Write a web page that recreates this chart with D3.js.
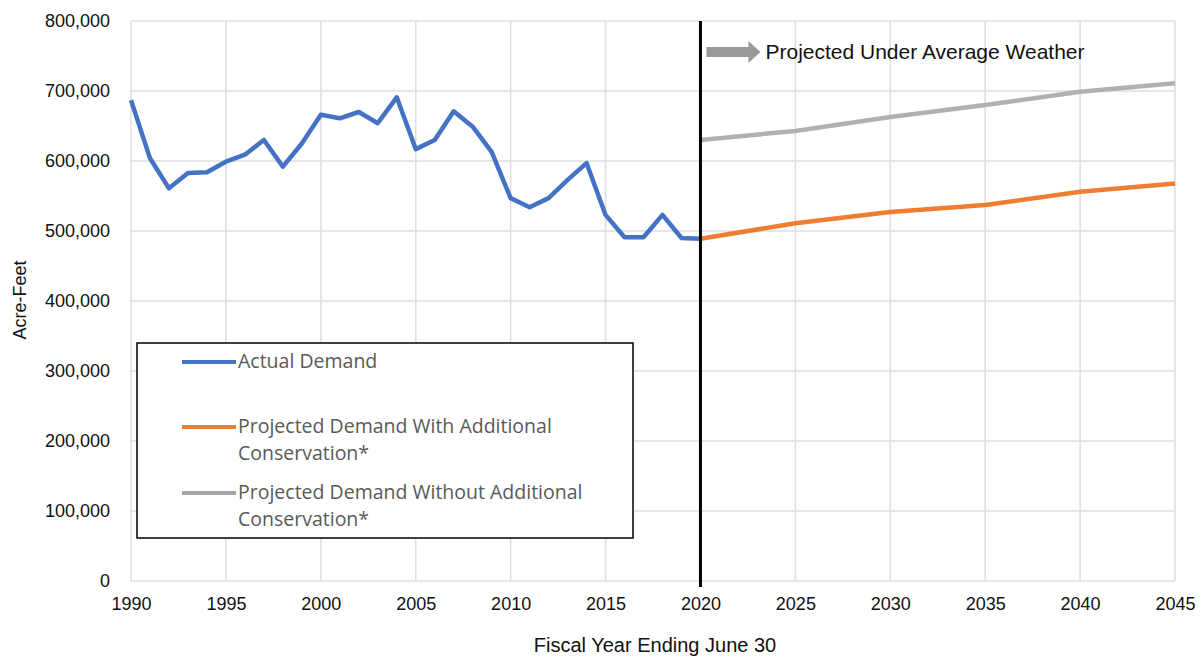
<!DOCTYPE html>
<html>
<head>
<meta charset="utf-8">
<script src="https://cdn.jsdelivr.net/npm/d3@7"></script>
<style>
  body { margin: 0; background: #fff; }
  svg { display: block; }
</style>
</head>
<body>
<div id="chart"></div>
<script>
// actual demand, fiscal years 1990-2020
var actualYears = d3.range(1990, 2021);
var actualValues = [687000, 604000, 561000, 583000, 584000, 599000, 609000, 630000, 592000, 625000,
  666000, 661000, 670000, 654000, 691000, 617000, 630000, 671000, 649000, 613000,
  547000, 534000, 547000, 573000, 597000, 523000, 491000, 491000, 523000, 490000, 489000];

// projections every 5 years
var projYears = [2020, 2025, 2030, 2035, 2040, 2045];
var withConservation = [489000, 511000, 527000, 537000, 556000, 568000];
var withoutConservation = [630000, 643000, 663000, 680000, 699000, 711000];

var xTicks = d3.range(1990, 2046, 5);
var yTicks = d3.range(0, 800001, 100000);

var legendItems = [
  { lines: ['Actual Demand'], color: '#4472C4' },
  { lines: ['Projected Demand With Additional', 'Conservation*'], color: '#ED7D31' },
  { lines: ['Projected Demand Without Additional', 'Conservation*'], color: '#A5A5A5' }
];

var width = 1202, height = 657;
var x = d3.scaleLinear().domain([1990, 2045]).range([131, 1175]);
var y = d3.scaleLinear().domain([0, 800000]).range([581, 21]);

var svg = d3.select('#chart').append('svg')
  .attr('width', width)
  .attr('height', height);

// gridlines
svg.append('g').selectAll('line.h')
  .data(yTicks).enter().append('line')
  .attr('x1', x(1990)).attr('x2', x(2045))
  .attr('y1', function(d) { return y(d); })
  .attr('y2', function(d) { return y(d); })
  .style('stroke', '#dedede').style('stroke-width', 1.5);

svg.append('g').selectAll('line.v')
  .data(xTicks).enter().append('line')
  .attr('x1', function(d) { return x(d); })
  .attr('x2', function(d) { return x(d); })
  .attr('y1', y(800000)).attr('y2', y(0))
  .style('stroke', '#dedede').style('stroke-width', 1.5);

// axes (labels only)
var yAxis = svg.append('g')
  .attr('transform', 'translate(' + (x(1990) - 21) + ',0)')
  .call(d3.axisLeft(y).tickValues(yTicks).tickSize(0).tickPadding(0).tickFormat(d3.format(',')));
yAxis.select('.domain').remove();
yAxis.selectAll('text')
  .style('font-family', 'Liberation Sans, Arial, sans-serif')
  .style('font-size', '18px').style('fill', '#111');

var xAxis = svg.append('g')
  .attr('transform', 'translate(0,' + (y(0) + 16) + ')')
  .call(d3.axisBottom(x).tickValues(xTicks).tickSize(0).tickPadding(0).tickFormat(d3.format('d')));
xAxis.select('.domain').remove();
xAxis.selectAll('text')
  .style('font-family', 'Liberation Sans, Arial, sans-serif')
  .style('font-size', '18px').style('fill', '#111');

// axis titles
svg.append('text')
  .attr('transform', 'translate(26,' + 300 + ') rotate(-90)')
  .attr('text-anchor', 'middle')
  .style('font-family', 'Liberation Sans, Arial, sans-serif')
  .style('font-size', '18px').style('fill', '#111')
  .text('Acre-Feet');

svg.append('text')
  .attr('x', 655).attr('y', 652)
  .attr('text-anchor', 'middle')
  .style('font-family', 'Liberation Sans, Arial, sans-serif')
  .style('font-size', '20px').style('fill', '#111')
  .text('Fiscal Year Ending June 30');

// series
var line = d3.line()
  .x(function(d) { return x(d[0]); })
  .y(function(d) { return y(d[1]); });

var series = [
  { data: d3.zip(projYears, withoutConservation), color: '#B0B0B0' },
  { data: d3.zip(projYears, withConservation), color: '#ED7D31' },
  { data: d3.zip(actualYears, actualValues), color: '#4472C4' }
];

svg.selectAll('path.series')
  .data(series).enter().append('path')
  .attr('class', 'series')
  .attr('d', function(d) { return line(d.data); })
  .style('fill', 'none')
  .style('stroke', function(d) { return d.color; })
  .style('stroke-width', 4.5)
  .style('stroke-linejoin', 'round');

// 2020 divider
svg.append('line')
  .attr('x1', x(2020)).attr('x2', x(2020))
  .attr('y1', y(800000)).attr('y2', y(0) + 6)
  .style('stroke', '#000').style('stroke-width', 3);

// annotation arrow
var arrowX = x(2020) + 6, arrowY = 52;
svg.append('path')
  .attr('d', 'M' + arrowX + ',' + (arrowY - 5) + 'h42v-6l12,11l-12,11v-6h-42z')
  .style('fill', '#999');
svg.append('text')
  .attr('x', arrowX + 59).attr('y', arrowY + 7)
  .style('font-family', 'Liberation Sans, Arial, sans-serif')
  .style('font-size', '21px').style('fill', '#111')
  .text('Projected Under Average Weather');

// legend
var legend = svg.append('g');
legend.append('rect')
  .attr('x', 137).attr('y', 343)
  .attr('width', 496).attr('height', 195)
  .style('fill', '#fff').style('stroke', '#000').style('stroke-width', 1.5);

var legendY = [362, 427, 493];
legendItems.forEach(function(item, i) {
  legend.append('line')
    .attr('x1', 182).attr('x2', 236)
    .attr('y1', legendY[i]).attr('y2', legendY[i])
    .style('stroke', item.color).style('stroke-width', 4);
  item.lines.forEach(function(t, j) {
    legend.append('text')
      .attr('x', 238).attr('y', legendY[i] + 6 + j * 27)
      .style('font-family', 'Open Sans, sans-serif')
      .style('font-size', '19.5px').style('fill', '#595959')
      .text(t);
  });
});
</script>
</body>
</html>
